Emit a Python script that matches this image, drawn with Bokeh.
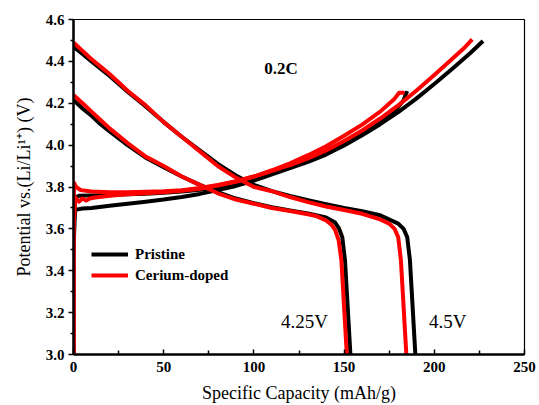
from bokeh.plotting import figure
from bokeh.models import Range1d, FixedTicker, Label, Legend, LegendItem, PrintfTickFormatter
from bokeh.embed import file_html
from bokeh.resources import INLINE

# ---------------- data ----------------
# Charge curves (Pristine)
pri_chg45_cap = [0, 0, 0.8, 1.5, 5, 10, 20, 30, 40, 50, 60, 70, 80, 90, 100, 110, 120, 130, 140, 150, 160, 170, 180, 190, 200, 210, 220, 227]
pri_chg45_v = [3.0, 3.5, 3.68, 3.692, 3.697, 3.70, 3.71, 3.72, 3.73, 3.74, 3.752, 3.767, 3.785, 3.805, 3.83, 3.86, 3.89, 3.92, 3.955, 3.998, 4.047, 4.10, 4.158, 4.222, 4.292, 4.365, 4.44, 4.497]
pri_chg425_cap = [0, 0, 1, 3, 10, 20, 30, 40, 50, 60, 70, 80, 90, 100, 110, 120, 130, 140, 150, 160, 170, 178, 183, 184.5, 185.5]
pri_chg425_v = [3.0, 3.6, 3.75, 3.758, 3.76, 3.762, 3.765, 3.768, 3.772, 3.778, 3.787, 3.80, 3.815, 3.838, 3.865, 3.895, 3.928, 3.965, 4.008, 4.057, 4.11, 4.16, 4.215, 4.25, 4.245]
# Charge curves (Cerium-doped)
ce_chg45_cap = [0, 0, 0.3, 1.5, 4, 10, 20, 30, 40, 50, 60, 70, 80, 90, 100, 110, 120, 130, 140, 150, 160, 170, 180, 190, 200, 210, 216.7, 221]
ce_chg45_v = [3.0, 3.6, 3.82, 3.80, 3.785, 3.778, 3.775, 3.775, 3.777, 3.78, 3.785, 3.795, 3.81, 3.828, 3.85, 3.877, 3.905, 3.937, 3.975, 4.02, 4.07, 4.127, 4.19, 4.26, 4.335, 4.412, 4.465, 4.505]
ce_chg425_cap = [0, 0, 1, 3, 5, 7, 9, 12, 20, 30, 40, 50, 60, 70, 80, 90, 100, 110, 120, 130, 140, 150, 160, 170, 178, 180.5, 183.5]
ce_chg425_v = [3.0, 3.6, 3.75, 3.73, 3.745, 3.735, 3.745, 3.75, 3.758, 3.765, 3.77, 3.775, 3.782, 3.792, 3.807, 3.825, 3.85, 3.88, 3.913, 3.952, 3.995, 4.045, 4.098, 4.16, 4.222, 4.25, 4.25]
# Discharge curves (Pristine)
pri_dis45_cap = [0, 5, 10, 15, 20, 30, 40, 50, 60, 70, 80, 90, 100, 110, 120, 130, 140, 150, 160, 170, 180, 183, 185, 186.5, 187.5, 188.5, 189.5]
pri_dis45_v = [4.47, 4.435, 4.40, 4.365, 4.33, 4.255, 4.185, 4.11, 4.04, 3.975, 3.91, 3.855, 3.81, 3.78, 3.757, 3.737, 3.718, 3.70, 3.684, 3.665, 3.625, 3.60, 3.56, 3.45, 3.3, 3.15, 3.0]
pri_dis425_cap = [0, 5, 10, 15, 20, 30, 40, 50, 60, 70, 80, 90, 100, 110, 120, 130, 140, 145, 147, 149, 150.5, 151.5, 152.5, 153.5]
pri_dis425_v = [4.215, 4.175, 4.14, 4.10, 4.065, 4.0, 3.94, 3.895, 3.85, 3.81, 3.775, 3.745, 3.723, 3.703, 3.688, 3.674, 3.655, 3.63, 3.605, 3.56, 3.45, 3.3, 3.15, 3.0]
# Discharge curves (Cerium-doped)
ce_dis45_cap = [0, 5, 10, 15, 20, 30, 40, 50, 60, 70, 80, 90, 100, 110, 120, 130, 140, 150, 160, 170, 175, 178, 180, 181.5, 182.5, 183.5, 184.5]
ce_dis45_v = [4.49, 4.45, 4.41, 4.375, 4.34, 4.26, 4.19, 4.11, 4.04, 3.97, 3.90, 3.845, 3.80, 3.78, 3.752, 3.728, 3.707, 3.69, 3.672, 3.645, 3.625, 3.60, 3.56, 3.45, 3.3, 3.15, 3.0]
ce_dis425_cap = [0, 5, 10, 15, 20, 30, 40, 50, 60, 70, 80, 90, 100, 110, 120, 130, 135, 140, 143, 145, 147, 148.5, 149.5, 150.5, 151.5]
ce_dis425_v = [4.24, 4.20, 4.16, 4.12, 4.08, 4.01, 3.945, 3.90, 3.85, 3.81, 3.77, 3.74, 3.72, 3.70, 3.685, 3.67, 3.66, 3.64, 3.62, 3.595, 3.545, 3.45, 3.3, 3.15, 3.0]

series_names = ["Pristine", "Cerium-doped"]
annotations = ["0.2C", "4.25V", "4.5V"]
x_ticks = [0, 50, 100, 150, 200, 250]
x_minor = [25, 75, 125, 175, 225]
y_ticks = [3.0, 3.2, 3.4, 3.6, 3.8, 4.0, 4.2, 4.4, 4.6]
y_minor = [3.1, 3.3, 3.5, 3.7, 3.9, 4.1, 4.3, 4.5]
x_label = "Specific Capacity (mAh/g)"
y_label = "Potential vs.(Li/Li\u00b9\u207a) (V)"

# ---------------- figure ----------------
SERIF = "Liberation Serif"
p = figure(width=539, height=405, output_backend="svg", toolbar_location=None,
           x_range=Range1d(0, 250), y_range=Range1d(3.0, 4.6),
           min_border_left=73, min_border_right=15, min_border_top=19, min_border_bottom=51)
p.grid.visible = False
p.background_fill_color = "white"
p.border_fill_color = "white"
p.outline_line_color = "black"
p.outline_line_width = 1.2

lw = 4
black_rs = []
for cx, vy in [(pri_chg45_cap, pri_chg45_v), (pri_chg425_cap, pri_chg425_v),
               (pri_dis45_cap, pri_dis45_v), (pri_dis425_cap, pri_dis425_v)]:
    black_rs.append(p.line(cx, vy, line_color="black", line_width=lw, line_join="round"))
red_rs = []
for cx, vy in [(ce_chg45_cap, ce_chg45_v), (ce_chg425_cap, ce_chg425_v),
               (ce_dis45_cap, ce_dis45_v), (ce_dis425_cap, ce_dis425_v)]:
    red_rs.append(p.line(cx, vy, line_color="#ff0000", line_width=lw, line_join="round"))

legend = Legend(items=[LegendItem(label=series_names[0], renderers=[black_rs[0]]),
                       LegendItem(label=series_names[1], renderers=[red_rs[0]])],
                location=(18, 69), border_line_color=None, background_fill_alpha=0,
                label_text_font=SERIF, label_text_font_style="bold", label_text_font_size="15px",
                label_text_color="black",
                glyph_width=37, glyph_height=20, label_height=20, spacing=1, padding=5, margin=0,
                label_standoff=7)
p.add_layout(legend, "center")

# axes
p.xaxis.ticker = FixedTicker(ticks=x_ticks, minor_ticks=x_minor)
p.yaxis.ticker = FixedTicker(ticks=y_ticks, minor_ticks=y_minor)
p.xaxis.formatter = PrintfTickFormatter(format="%d")
p.yaxis.formatter = PrintfTickFormatter(format="%.1f")
p.axis.axis_line_width = 2.5
p.axis.axis_line_color = "black"
p.axis.major_tick_line_width = 1.5
p.axis.minor_tick_line_width = 1.5
p.axis.major_tick_line_color = "black"
p.axis.minor_tick_line_color = "black"
p.axis.major_label_text_font = SERIF
p.axis.major_label_text_font_style = "bold"
p.axis.major_label_text_font_size = "15px"
p.axis.major_label_text_color = "black"
p.axis.axis_label_text_font = SERIF
p.axis.axis_label_text_font_style = "normal"
p.axis.axis_label_text_font_size = "18px"
p.axis.axis_label_text_color = "black"
p.xaxis.major_tick_in = 5
p.xaxis.major_tick_out = 0
p.xaxis.minor_tick_in = 4
p.xaxis.minor_tick_out = 0
p.yaxis.major_tick_in = 0
p.yaxis.major_tick_out = 5
p.yaxis.minor_tick_in = 0
p.yaxis.minor_tick_out = 3
p.xaxis.axis_label = x_label
p.yaxis.axis_label = y_label
p.xaxis.axis_label_standoff = 8
p.yaxis.axis_label_standoff = 9
p.xaxis.major_label_standoff = 7
p.yaxis.major_label_standoff = 4

p.add_layout(Label(x=115, y=4.366, text=annotations[0], text_font=SERIF, text_font_style="bold",
                   text_font_size="17px", text_align="center", text_baseline="middle",
                   text_color="black"))
p.add_layout(Label(x=115, y=3.16, text=annotations[1], text_font=SERIF,
                   text_font_size="19px", text_align="left", text_baseline="middle",
                   text_color="black"))
p.add_layout(Label(x=197, y=3.16, text=annotations[2], text_font=SERIF,
                   text_font_size="19px", text_align="left", text_baseline="middle",
                   text_color="black"))

open("out.html", "w").write(file_html(p, INLINE))
